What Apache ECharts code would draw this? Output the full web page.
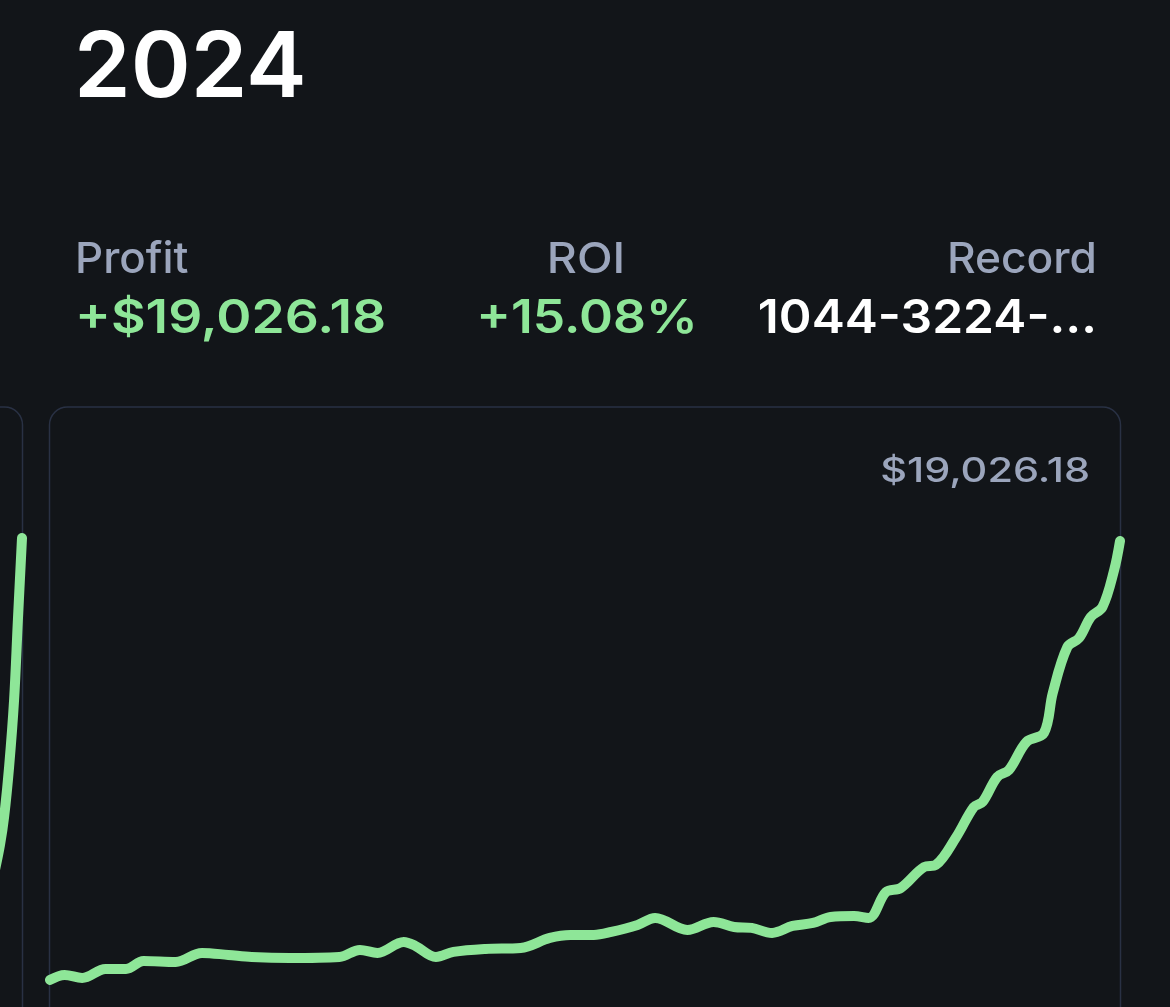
<!DOCTYPE html>
<html>
<head>
<meta charset="utf-8">
<script src="https://cdn.jsdelivr.net/npm/echarts@6/dist/echarts.min.js"></script>
<style>
html,body{margin:0;padding:0;background:#121519;}
#c{width:1170px;height:1007px;}
</style>
</head>
<body>
<div id="c"></div>
<script>
// Cumulative profit 2024 (day of year, dollars)
var days2024 = [0,5,11,19,26,32,43,52,61,69,82,99,106,112,121,125,132,138,149,161,171,178,186,192,201,207,218,227,234,240,247,254,261,267,275,280,286,291,299,303,310,316,319,324,328,334,340,343,348,352,356,360,364,366];
var profit2024 = [0,217,87,477,477,823,780,1170,1084,997,953,997,1300,1170,1647,1474,997,1214,1344,1387,1820,1950,1950,2080,2384,2687,2167,2514,2297,2254,2037,2340,2470,2730,2774,2687,3814,3987,4897,4984,6198,7498,7715,8798,9101,10315,10705,12439,14432,14822,15732,16166,17769,19026.18];
// Tail of the previous card (partly visible at the left edge)
var daysPrev = [356.5,358.5,359.9,361.6,363.3,364.6,366];
var profitPrev = [4600,5851,7064,9231,12135,15602,19156];

var titleText = "2024";
var statLabels = ["Profit","ROI","Record"];
var statValues = ["+$19,026.18","+15.08%","1044-3224-…"];
var endLabel = "$19,026.18";

var BG = "#121519", BORDER = "#293144", MUTED = "#9ba5bc", GREEN = "#8ee698", WHITE = "#ffffff";
var FONT = "Inter, 'Noto Sans', sans-serif";

function pairs(xs, ys){ return xs.map(function(x,i){ return [x, ys[i]]; }); }

var chart = echarts.init(document.getElementById('c'), null, {renderer:'canvas'});
chart.setOption({
  backgroundColor: BG,
  animation: false,
  grid: [
    {left: 50, top: 541, width: 1070, height: 462},
    {left: 0, top: 541, width: 22, height: 462}
  ],
  xAxis: [
    {type:'value', gridIndex:0, min:0, max:366, show:false},
    {type:'value', gridIndex:1, min:358.5, max:366, show:false}
  ],
  yAxis: [
    {type:'value', gridIndex:0, min:-1000, max:19026.18, show:false, splitLine:{show:false}},
    {type:'value', gridIndex:1, min:-1000, max:19026.18, show:false, splitLine:{show:false}}
  ],
  graphic: [
    {type:'rect', z:-1, shape:{x:-1050, y:407, width:1072.5, height:700, r:18}, style:{fill:BG, stroke:BORDER, lineWidth:1.5}},
    {type:'rect', z:-1, shape:{x:49.5, y:407, width:1071, height:700, r:18}, style:{fill:BG, stroke:BORDER, lineWidth:1.5}},
    {type:'text', x:74, y:24, scaleX:1.0, style:{text:titleText, fill:WHITE, font:"600 91px "+FONT}},
    {type:'text', x:75, y:239, scaleX:1.02, style:{text:statLabels[0], fill:MUTED, font:"500 43px "+FONT}},
    {type:'text', x:75, y:296, scaleX:1.16, style:{text:statValues[0], fill:GREEN, font:"600 46px "+FONT}},
    {type:'text', x:586, y:239, scaleX:1.08, style:{text:statLabels[1], fill:MUTED, font:"500 43px "+FONT, textAlign:'center'}},
    {type:'text', x:587, y:296, scaleX:1.12, style:{text:statValues[1], fill:GREEN, font:"600 46px "+FONT, textAlign:'center'}},
    {type:'text', x:1097, y:239, scaleX:1.03, style:{text:statLabels[2], fill:MUTED, font:"500 43px "+FONT, textAlign:'right'}},
    {type:'text', x:1097, y:296, scaleX:1.08, style:{text:statValues[2], fill:WHITE, font:"600 46px "+FONT, textAlign:'right'}},
    {type:'text', x:1090, y:455, scaleX:1.22, style:{text:endLabel, fill:MUTED, font:"500 34px "+FONT, textAlign:'right'}}
  ],
  series: [
    {type:'line', xAxisIndex:0, yAxisIndex:0, data:pairs(days2024, profit2024), smooth:0.35, showSymbol:false, clip:false,
     lineStyle:{color:GREEN, width:10, cap:'round', join:'round'}},
    {type:'line', xAxisIndex:1, yAxisIndex:1, data:pairs(daysPrev, profitPrev), smooth:0.35, showSymbol:false, clip:false,
     lineStyle:{color:GREEN, width:10, cap:'round', join:'round'}}
  ]
});
</script>
</body>
</html>
